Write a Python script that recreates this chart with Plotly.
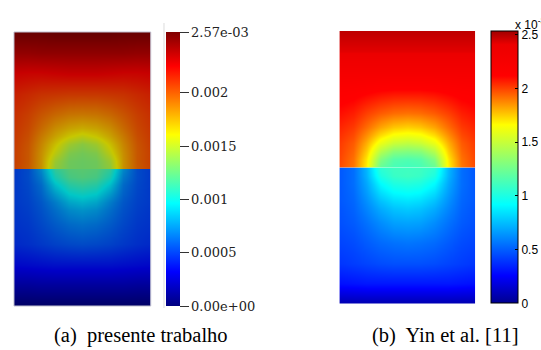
import plotly.graph_objects as go

# ---------------- data (values in units of 1e-3) ----------------
X_POS = [0.0, 0.1, 0.2, 0.3, 0.4, 0.5, 0.6, 0.7, 0.8, 0.9, 1.0]
DEPTH = [0.0, 0.06, 0.12, 0.18, 0.24, 0.3, 0.4, 0.55, 0.7, 0.85, 1.0]   # distance from the interface

# (a) presente trabalho  -- upper half, rows from interface upward
LEFT_UPPER = [
    [2.04, 1.96, 1.78, 1.42, 1.31, 1.29, 1.31, 1.42, 1.78, 1.96, 2.04],
    [2.05, 1.97, 1.78, 1.46, 1.32, 1.30, 1.32, 1.46, 1.78, 1.97, 2.05],
    [2.05, 1.97, 1.79, 1.56, 1.37, 1.33, 1.37, 1.56, 1.79, 1.97, 2.05],
    [2.06, 1.98, 1.82, 1.64, 1.47, 1.40, 1.47, 1.64, 1.82, 1.98, 2.06],
    [2.07, 2.00, 1.86, 1.73, 1.62, 1.56, 1.62, 1.73, 1.86, 2.00, 2.07],
    [2.08, 2.02, 1.91, 1.80, 1.73, 1.70, 1.73, 1.80, 1.91, 2.02, 2.08],
    [2.10, 2.05, 1.98, 1.92, 1.88, 1.87, 1.88, 1.92, 1.98, 2.05, 2.10],
    [2.15, 2.12, 2.09, 2.08, 2.07, 2.07, 2.07, 2.08, 2.09, 2.12, 2.15],
    [2.25, 2.24, 2.24, 2.25, 2.26, 2.26, 2.26, 2.25, 2.24, 2.24, 2.25],
    [2.42, 2.42, 2.43, 2.43, 2.43, 2.43, 2.43, 2.43, 2.43, 2.42, 2.42],
    [2.56, 2.56, 2.56, 2.57, 2.57, 2.57, 2.57, 2.57, 2.56, 2.56, 2.56],
]
# (a) lower half, rows from interface downward
LEFT_LOWER = [
    [0.50, 0.56, 0.76, 1.12, 1.23, 1.25, 1.23, 1.12, 0.76, 0.56, 0.50],
    [0.50, 0.56, 0.71, 1.04, 1.19, 1.22, 1.19, 1.04, 0.71, 0.56, 0.50],
    [0.50, 0.55, 0.66, 0.92, 1.08, 1.12, 1.08, 0.92, 0.66, 0.55, 0.50],
    [0.50, 0.54, 0.63, 0.81, 0.96, 1.00, 0.96, 0.81, 0.63, 0.54, 0.50],
    [0.50, 0.53, 0.60, 0.72, 0.85, 0.89, 0.85, 0.72, 0.60, 0.53, 0.50],
    [0.49, 0.52, 0.58, 0.67, 0.76, 0.79, 0.76, 0.67, 0.58, 0.52, 0.49],
    [0.48, 0.50, 0.55, 0.61, 0.66, 0.68, 0.66, 0.61, 0.55, 0.50, 0.48],
    [0.45, 0.47, 0.50, 0.53, 0.55, 0.56, 0.55, 0.53, 0.50, 0.47, 0.45],
    [0.34, 0.35, 0.36, 0.37, 0.37, 0.37, 0.37, 0.37, 0.36, 0.35, 0.34],
    [0.17, 0.17, 0.18, 0.18, 0.18, 0.18, 0.18, 0.18, 0.18, 0.17, 0.17],
    [0.00, 0.00, 0.00, 0.00, 0.00, 0.00, 0.00, 0.00, 0.00, 0.00, 0.00],
]
# (b) Yin et al. -- upper half
RIGHT_UPPER = [
    [1.98, 1.90, 1.68, 1.20, 1.12, 1.10, 1.12, 1.20, 1.68, 1.90, 1.98],
    [1.99, 1.91, 1.70, 1.30, 1.17, 1.15, 1.17, 1.30, 1.70, 1.91, 1.99],
    [2.00, 1.93, 1.75, 1.45, 1.32, 1.30, 1.32, 1.45, 1.75, 1.93, 2.00],
    [2.01, 1.95, 1.80, 1.60, 1.50, 1.47, 1.50, 1.60, 1.80, 1.95, 2.01],
    [2.03, 1.98, 1.86, 1.72, 1.64, 1.62, 1.64, 1.72, 1.86, 1.98, 2.03],
    [2.05, 2.01, 1.92, 1.82, 1.76, 1.74, 1.76, 1.82, 1.92, 2.01, 2.05],
    [2.09, 2.06, 2.00, 1.95, 1.92, 1.91, 1.92, 1.95, 2.00, 2.06, 2.09],
    [2.15, 2.14, 2.12, 2.10, 2.09, 2.09, 2.09, 2.10, 2.12, 2.14, 2.15],
    [2.27, 2.27, 2.27, 2.27, 2.27, 2.27, 2.27, 2.27, 2.27, 2.27, 2.27],
    [2.42, 2.42, 2.42, 2.42, 2.42, 2.42, 2.42, 2.42, 2.42, 2.42, 2.42],
    [2.48, 2.48, 2.48, 2.48, 2.48, 2.48, 2.48, 2.48, 2.48, 2.48, 2.48],
]
# (b) lower half
RIGHT_LOWER = [
    [0.48, 0.54, 0.73, 1.05, 1.10, 1.10, 1.10, 1.05, 0.73, 0.54, 0.48],
    [0.48, 0.54, 0.72, 1.00, 1.08, 1.10, 1.08, 1.00, 0.72, 0.54, 0.48],
    [0.48, 0.54, 0.69, 0.91, 1.00, 1.02, 1.00, 0.91, 0.69, 0.54, 0.48],
    [0.48, 0.53, 0.66, 0.83, 0.91, 0.93, 0.91, 0.83, 0.66, 0.53, 0.48],
    [0.48, 0.52, 0.63, 0.76, 0.83, 0.85, 0.83, 0.76, 0.63, 0.52, 0.48],
    [0.47, 0.51, 0.60, 0.70, 0.76, 0.78, 0.76, 0.70, 0.60, 0.51, 0.47],
    [0.46, 0.49, 0.55, 0.62, 0.67, 0.68, 0.67, 0.62, 0.55, 0.49, 0.46],
    [0.43, 0.45, 0.49, 0.53, 0.55, 0.56, 0.55, 0.53, 0.49, 0.45, 0.43],
    [0.39, 0.41, 0.43, 0.45, 0.46, 0.46, 0.46, 0.45, 0.43, 0.41, 0.39],
    [0.29, 0.30, 0.31, 0.31, 0.31, 0.31, 0.31, 0.31, 0.31, 0.30, 0.29],
    [0.06, 0.06, 0.06, 0.06, 0.06, 0.06, 0.06, 0.06, 0.06, 0.06, 0.06],
]

LEFT_MAX = 2.57
RIGHT_MAX = 2.53
LEFT_TICKS = [0.0, 0.5, 1.0, 1.5, 2.0, 2.57]
LEFT_TICK_TEXT = ["0.00e+00", "0.0005", "0.001", "0.0015", "0.002", "2.57e-03"]
RIGHT_TICKS = [0.0, 0.5, 1.0, 1.5, 2.0, 2.5]
RIGHT_TICK_TEXT = ["0", "0.5", "1", "1.5", "2", "2.5"]
CAPTION_A = "(a)\u00a0 presente trabalho"
CAPTION_B = "(b)\u00a0 Yin et al. [11]"

# ---------------- styling helpers ----------------
W, H = 541, 350


def px(p):
    return p / W


def py(p):
    return 1 - p / H


JET = [[0.0, (0, 0, 128)], [0.125, (0, 0, 255)], [0.375, (0, 255, 255)],
       [0.625, (255, 255, 0)], [0.875, (255, 0, 0)], [1.0, (128, 0, 0)]]
MATLAB_JET = [[0.0, (0, 0, 144)], [0.10, (0, 0, 255)], [0.362, (0, 255, 255)],
              [0.51, (128, 255, 128)], [0.655, (255, 255, 0)], [0.835, (255, 0, 0)],
              [0.95, (236, 0, 0)], [1.0, (160, 0, 0)]]


def scale(cs, k=1.0):
    return [[s, "rgb(%d,%d,%d)" % tuple(round(c * k) for c in col)] for s, col in cs]


JET_LIT = scale(JET, 0.78)      # shaded surface render
JET_BAR = scale(JET)
MJET = scale(MATLAB_JET)

up_y = [1 + d for d in DEPTH]
lo_y = [1 - d for d in reversed(DEPTH)]

fig = go.Figure()

# left image
fig.add_trace(go.Heatmap(x=X_POS, y=up_y, z=LEFT_UPPER, zmin=0, zmax=LEFT_MAX,
                         colorscale=JET_LIT, zsmooth="best", showscale=False,
                         xaxis="x", yaxis="y", hoverinfo="skip"))
fig.add_trace(go.Heatmap(x=X_POS, y=lo_y, z=LEFT_LOWER[::-1], zmin=0, zmax=LEFT_MAX,
                         colorscale=JET_LIT, zsmooth="best", showscale=False,
                         xaxis="x2", yaxis="y2", hoverinfo="skip"))
# right image
fig.add_trace(go.Heatmap(x=X_POS, y=up_y, z=RIGHT_UPPER, zmin=0, zmax=RIGHT_MAX,
                         colorscale=MJET, zsmooth="best", showscale=False,
                         xaxis="x3", yaxis="y3", hoverinfo="skip"))
fig.add_trace(go.Heatmap(x=X_POS, y=lo_y, z=RIGHT_LOWER[::-1], zmin=0, zmax=RIGHT_MAX,
                         colorscale=MJET, zsmooth="best", showscale=False,
                         xaxis="x4", yaxis="y4", hoverinfo="skip"))

# colour bars (carried by empty marker traces)
fig.add_trace(go.Scatter(
    x=[None], y=[None], mode="markers", xaxis="x", yaxis="y", showlegend=False,
    marker=dict(color=[0], cmin=0, cmax=LEFT_MAX, colorscale=JET_BAR, showscale=True,
                colorbar=dict(x=px(165.5), xanchor="left", xref="paper", xpad=0,
                              y=py(169), yanchor="middle", yref="paper", ypad=0,
                              lenmode="pixels", len=274, thicknessmode="pixels", thickness=13.5,
                              outlinewidth=0, ticks="outside", ticklen=9, tickwidth=1,
                              tickcolor="#333333", tickvals=LEFT_TICKS, ticktext=LEFT_TICK_TEXT,
                              tickfont=dict(family="DejaVu Serif", size=13, color="#222222")))))
fig.add_trace(go.Scatter(
    x=[None], y=[None], mode="markers", xaxis="x3", yaxis="y3", showlegend=False,
    marker=dict(color=[0], cmin=0, cmax=RIGHT_MAX, colorscale=MJET, showscale=True,
                colorbar=dict(x=px(490.7), xanchor="left", xref="paper", xpad=0,
                              y=py(167.4), yanchor="middle", yref="paper", ypad=0,
                              lenmode="pixels", len=271.5, thicknessmode="pixels", thickness=26.5,
                              outlinewidth=1, outlinecolor="black",
                              ticks="inside", ticklen=3, tickwidth=1, tickcolor="black",
                              tickvals=RIGHT_TICKS, ticktext=RIGHT_TICK_TEXT,
                              tickfont=dict(family="Liberation Sans", size=12, color="black")))))

hidden = dict(visible=False, fixedrange=True)
fig.update_layout(
    width=W, height=H, margin=dict(l=0, r=0, t=0, b=0),
    paper_bgcolor="white", plot_bgcolor="white", showlegend=False,
    xaxis=dict(domain=[px(14), px(151)], range=[0, 1], anchor="y", **hidden),
    yaxis=dict(domain=[py(169), py(32)], range=[1, 2], anchor="x", **hidden),
    xaxis2=dict(domain=[px(14), px(151)], range=[0, 1], anchor="y2", **hidden),
    yaxis2=dict(domain=[py(306), py(169)], range=[0, 1], anchor="x2", **hidden),
    xaxis3=dict(domain=[px(340), px(476)], range=[0, 1], anchor="y3", **hidden),
    yaxis3=dict(domain=[py(167.5), py(31)], range=[1, 2], anchor="x3", **hidden),
    xaxis4=dict(domain=[px(340), px(476)], range=[0, 1], anchor="y4", **hidden),
    yaxis4=dict(domain=[py(304), py(167.5)], range=[0, 1], anchor="x4", **hidden),
    shapes=[
        dict(type="rect", xref="paper", yref="paper", x0=px(14), x1=px(151), y0=py(306), y1=py(32),
             line=dict(color="#c0c0d0", width=1), fillcolor="rgba(0,0,0,0)", layer="above"),
        dict(type="line", xref="paper", yref="paper", x0=px(164.3), x1=px(164.3), y0=py(308), y1=py(23),
             line=dict(color="#dcdcdc", width=1)),
    ],
    annotations=[
        dict(text=CAPTION_A, x=px(141), y=py(335), xref="paper", yref="paper",
             xanchor="center", yanchor="middle", showarrow=False,
             font=dict(family="Liberation Serif", size=20.5, color="black")),
        dict(text=CAPTION_B, x=px(446), y=py(335), xref="paper", yref="paper",
             xanchor="center", yanchor="middle", showarrow=False,
             font=dict(family="Liberation Serif", size=20.5, color="black")),
        dict(text="x 10<sup>-3</sup>", x=px(514), y=py(24), xref="paper", yref="paper",
             xanchor="left", yanchor="middle", showarrow=False,
             font=dict(family="Liberation Sans", size=12, color="black")),
    ],
)

fig.write_html("out.html")
